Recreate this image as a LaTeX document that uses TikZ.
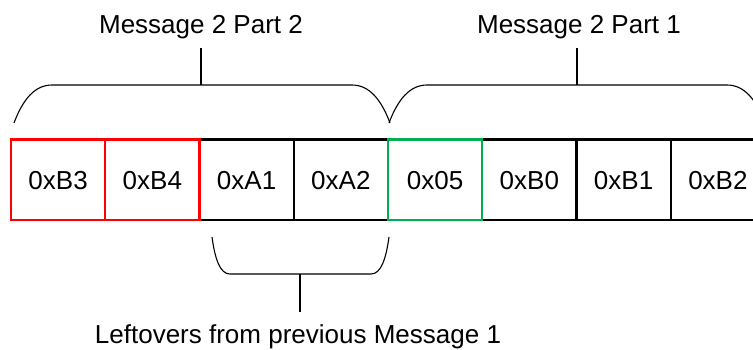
\documentclass[tikz,border=0pt]{standalone}
\usepackage{fontspec}
\setmainfont{Liberation Sans}
\definecolor{boxred}{RGB}{255,0,0}
\definecolor{boxgreen}{RGB}{0,176,80}
\tikzset{
  cell/.style={draw=black, line width=2.1pt, minimum width=94.25pt, minimum height=80.5pt,
               inner sep=0pt, text height=18.6pt, text depth=0pt, font=\fontsize{26}{30}\selectfont},
  redcell/.style={cell, draw=boxred},
  greencell/.style={cell, draw=boxgreen},
  brace/.style={draw=black, line width=1.1pt},
  caption/.style={anchor=base, inner sep=0pt, font=\fontsize{26}{30}\selectfont}
}
\begin{document}
\begin{tikzpicture}[x=1pt, y=-1pt]
  \useasboundingbox (0,0) rectangle (753,349);
  \begin{scope}
    \clip (0,0) rectangle (753,349);
    % byte cells, black first, coloured outlines on top
    \node[cell] (a1) at (246.625,179.75) {0xA1};
    \node[cell] (a2) at (340.875,179.75) {0xA2};
    \node[cell] (b0) at (529.375,179.75) {0xB0};
    \node[cell] (b1) at (623.625,179.75) {0xB1};
    \node[cell] (b2) at (717.875,179.75) {0xB2};
    \node[redcell] (b3) at (58.125,179.75) {0xB3};
    \node[redcell] (b4) at (152.375,179.75) {0xB4};
    \node[greencell] (c05) at (435.125,179.75) {0x05};

    % upper brace over the second part
    \coordinate (p2l) at (14,123);
    \coordinate (p2r) at (390,123);
    \coordinate (p2m) at (201,85);
    \coordinate (p2t) at (201,48);
    \draw[brace] (p2l) .. controls (23,99) and (35,85) .. (52,85) -- (352,85)
                 .. controls (369,85) and (381,99) .. (p2r);
    \draw[brace] (p2m) -- (p2t);

    % upper brace over the first part
    \coordinate (p1l) at (389,123);
    \coordinate (p1r) at (765,123);
    \coordinate (p1m) at (577,85);
    \coordinate (p1t) at (577,48);
    \draw[brace] (p1l) .. controls (398,99) and (410,85) .. (427,85) -- (727,85)
                 .. controls (744,85) and (756,99) .. (p1r);
    \draw[brace] (p1m) -- (p1t);

    % lower brace under the leftovers
    \coordinate (lol) at (212,237);
    \coordinate (lor) at (389,237);
    \coordinate (lom) at (300,274);
    \coordinate (lob) at (300,312);
    \draw[brace] (lol) .. controls (215,259) and (220,274) .. (230,274) -- (371,274)
                 .. controls (381,274) and (386,259) .. (lor);
    \draw[brace] (lom) -- (lob);

    % captions
    \node[caption] (t2) at (201,33) {Message 2 Part 2};
    \node[caption] (t1) at (579,33) {Message 2 Part 1};
    \node[caption] (tl) at (298,343) {Leftovers from previous Message 1};
  \end{scope}
\end{tikzpicture}
\end{document}
